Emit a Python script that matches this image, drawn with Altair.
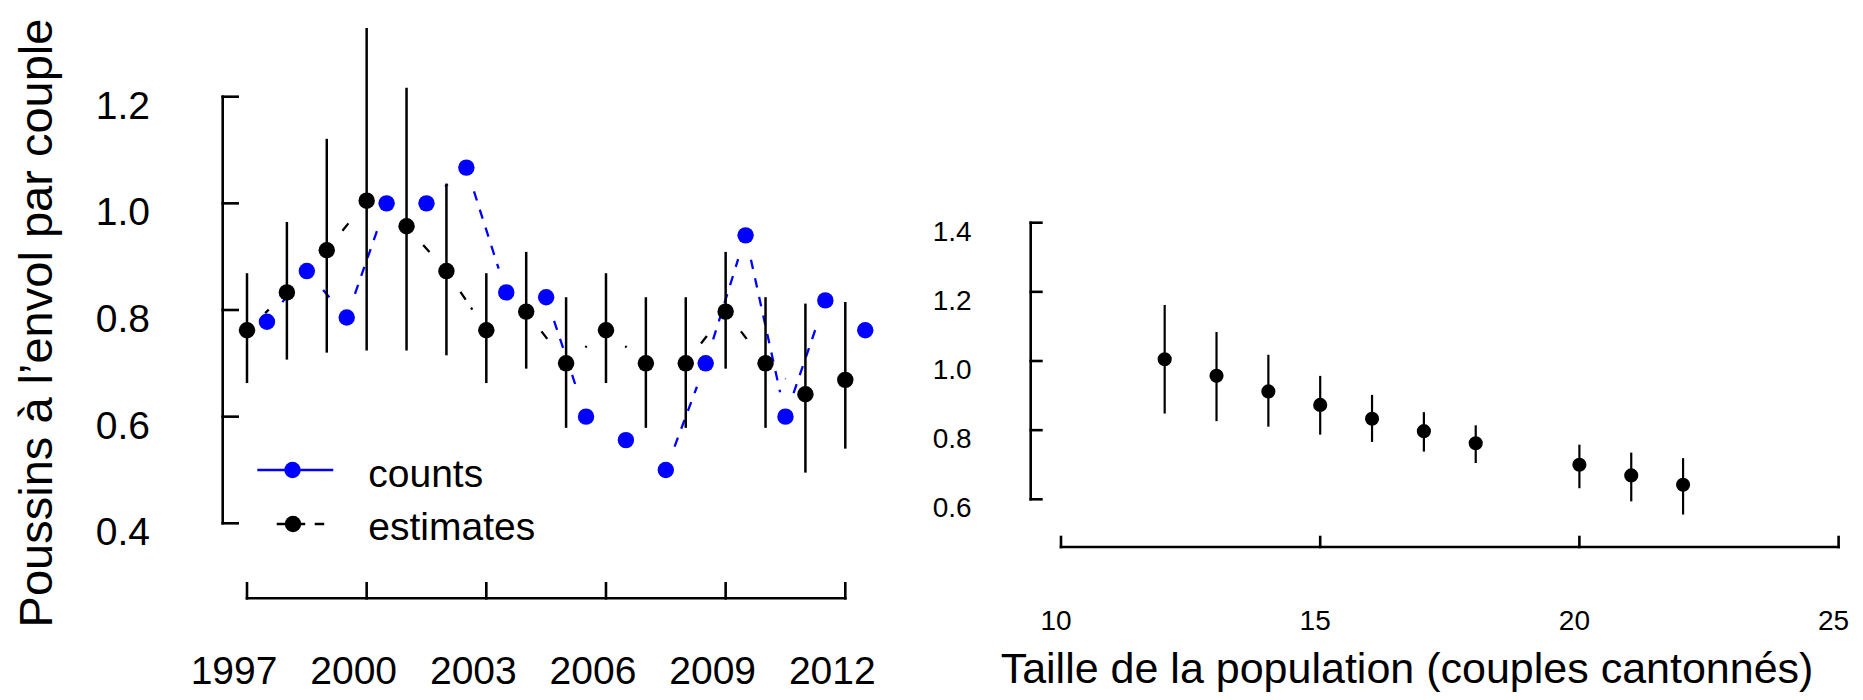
import altair as alt
import pandas as pd

# ---------------- data ----------------
years = list(range(1997, 2013))
estimates = [0.762, 0.833, 0.912, 1.005, 0.957, 0.873, 0.762, 0.797,
             0.700, 0.762, 0.700, 0.700, 0.797, 0.700, 0.642, 0.669]
est_low = [0.663, 0.707, 0.720, 0.724, 0.724, 0.715, 0.663, 0.690,
           0.579, 0.663, 0.579, 0.579, 0.690, 0.579, 0.495, 0.540]
est_high = [0.869, 0.965, 1.121, 1.329, 1.217, 1.037, 0.869, 0.909,
            0.824, 0.869, 0.824, 0.824, 0.909, 0.824, 0.812, 0.815]
counts = [0.778, 0.873, 0.786, 1.000, 1.000, 1.067, 0.833, 0.824,
          0.600, 0.556, 0.500, 0.700, 0.940, 0.600, 0.818, 0.762]

pop_size = [12, 13, 14, 15, 16, 17, 18, 20, 21, 22]
pop_est = [1.005, 0.957, 0.912, 0.873, 0.833, 0.797, 0.762, 0.700, 0.669, 0.642]
pop_low = [0.848, 0.826, 0.810, 0.787, 0.766, 0.738, 0.705, 0.632, 0.594, 0.556]
pop_high = [1.162, 1.084, 1.018, 0.957, 0.902, 0.852, 0.814, 0.758, 0.735, 0.719]

left_y_ticks = [0.4, 0.6, 0.8, 1.0, 1.2]
left_y_labels = ["0.4", "0.6", "0.8", "1.0", "1.2"]
left_x_ticks = [1997, 2000, 2003, 2006, 2009, 2012]
left_x_labels = ["1997", "2000", "2003", "2006", "2009", "2012"]
right_y_ticks = [0.6, 0.8, 1.0, 1.2, 1.4]
right_y_labels = ["0.6", "0.8", "1.0", "1.2", "1.4"]
right_x_ticks = [10, 15, 20, 25]
right_x_labels = ["10", "15", "20", "25"]
legend_labels = ["counts", "estimates"]
y_title = "Poussins à l’envol par couple"
x_title = "Taille de la population (couples cantonnés)"

# ---------------- layout / style ----------------
W, H = 1847, 684
FONT = "Liberation Sans"
BLUE = "#0000FF"
L_XR, L_YR = [239.0, 837.3], [515.3, 88.7]
R_XR, R_YR = [1053.0, 1830.6], [491.3, 214.7]
lx = alt.Scale(domain=[1997, 2012], range=L_XR, nice=False, zero=False)
ly = alt.Scale(domain=[0.4, 1.2], range=L_YR, nice=False, zero=False)
rx = alt.Scale(domain=[10, 25], range=R_XR, nice=False, zero=False)
ry = alt.Scale(domain=[0.6, 1.4], range=R_YR, nice=False, zero=False)
L_PXX = (L_XR[1] - L_XR[0]) / 15.0
L_PXY = (L_YR[0] - L_YR[1]) / 0.8
GAP = 25.0
AXW = 2.6
LPT = 270   # left point size (area)
RPT = 200   # right point size (area)


def gapped_line(df, xf, yf, color, calc=None):
    base = alt.Chart(df)
    if calc:
        base = base.transform_calculate(**calc)
    return (
        base.transform_window(xn=f"lead({xf})", yn=f"lead({yf})",
                              sort=[alt.SortField(xf, order="ascending")])
        .transform_filter("isValid(datum.xn)")
        .transform_calculate(dxp=f"(datum.xn - datum.{xf}) * {L_PXX}",
                             dyp=f"(datum.yn - datum.{yf}) * {L_PXY}")
        .transform_calculate(seglen="sqrt(datum.dxp*datum.dxp + datum.dyp*datum.dyp)")
        .transform_filter(f"datum.seglen > {2 * GAP}")
        .transform_calculate(t=f"{GAP} / datum.seglen")
        .transform_calculate(
            xs=f"datum.{xf} + (datum.xn - datum.{xf}) * datum.t",
            xe=f"datum.xn - (datum.xn - datum.{xf}) * datum.t",
            ys=f"datum.{yf} + (datum.yn - datum.{yf}) * datum.t",
            ye=f"datum.yn - (datum.yn - datum.{yf}) * datum.t",
        )
        .mark_rule(color=color, strokeWidth=2.3, strokeDash=[9.5, 9.5])
        .encode(x=alt.X("xs:Q", scale=lx, axis=None), x2="xe:Q",
                y=alt.Y("ys:Q", scale=ly, axis=None), y2="ye:Q")
    )


def y_axis(ticks, labels, scale, xpos, tlen, lab_x, fsize):
    tdf = pd.DataFrame({"v": ticks, "lab": labels})
    ddf = pd.DataFrame({"lo": [min(ticks)], "hi": [max(ticks)]})
    dom = alt.Chart(ddf).mark_rule(color="black", strokeWidth=AXW, strokeCap="square").encode(
        y=alt.Y("lo:Q", scale=scale, axis=None), y2="hi:Q", x=alt.value(xpos))
    tk = alt.Chart(tdf).mark_rule(color="black", strokeWidth=AXW, strokeCap="square").encode(
        y=alt.Y("v:Q", scale=scale, axis=None), x=alt.value(xpos), x2=alt.value(xpos + tlen))
    lab = alt.Chart(tdf).mark_text(align="right", baseline="middle", dy=10, fontSize=fsize,
                                   font=FONT, color="black").encode(
        y=alt.Y("v:Q", scale=scale, axis=None), x=alt.value(lab_x), text="lab:N")
    return [dom, tk, lab]


def x_axis(ticks, labels, scale, ypos, tlen, lab_y, fsize, dx):
    tdf = pd.DataFrame({"v": ticks, "lab": labels})
    ddf = pd.DataFrame({"lo": [min(ticks)], "hi": [max(ticks)]})
    dom = alt.Chart(ddf).mark_rule(color="black", strokeWidth=AXW, strokeCap="square").encode(
        x=alt.X("lo:Q", scale=scale, axis=None), x2="hi:Q", y=alt.value(ypos))
    tk = alt.Chart(tdf).mark_rule(color="black", strokeWidth=AXW, strokeCap="square").encode(
        x=alt.X("v:Q", scale=scale, axis=None), y=alt.value(ypos), y2=alt.value(ypos - tlen))
    lab = alt.Chart(tdf).mark_text(align="center", baseline="alphabetic", dx=dx, fontSize=fsize,
                                   font=FONT, color="black").encode(
        x=alt.X("v:Q", scale=scale, axis=None), y=alt.value(lab_y), text="lab:N")
    return [dom, tk, lab]


# ---------------- left panel ----------------
est_df = pd.DataFrame({"year": years, "est": estimates, "lo": est_low, "hi": est_high})
cnt_df = pd.DataFrame({"year": years, "count": counts})

cnt_line = gapped_line(cnt_df, "xc", "count", BLUE, calc={"xc": "datum.year + 0.5"})
est_line = gapped_line(est_df, "year", "est", "black")

est_bars = alt.Chart(est_df).mark_rule(color="black", strokeWidth=2.5).encode(
    x=alt.X("year:Q", scale=lx, axis=None),
    y=alt.Y("lo:Q", scale=ly, axis=None), y2="hi:Q")
cnt_pts = alt.Chart(cnt_df).transform_calculate(xc="datum.year + 0.5").mark_point(
    filled=True, shape="circle", size=LPT, color=BLUE, opacity=1).encode(
    x=alt.X("xc:Q", scale=lx, axis=None), y=alt.Y("count:Q", scale=ly, axis=None))
est_pts = alt.Chart(est_df).mark_point(
    filled=True, shape="circle", size=LPT, color="black", opacity=1).encode(
    x=alt.X("year:Q", scale=lx, axis=None), y=alt.Y("est:Q", scale=ly, axis=None))

one = pd.DataFrame({"k": [0]})
leg_cnt_line = alt.Chart(one).mark_rule(color=BLUE, strokeWidth=2.5).encode(
    x=alt.value(249.3), x2=alt.value(325.3), y=alt.value(462))
leg_cnt_pt = alt.Chart(one).mark_point(filled=True, shape="circle", size=LPT, color=BLUE,
                                       opacity=1).encode(x=alt.value(284.5), y=alt.value(462))
leg_est_line = alt.Chart(one).mark_rule(color="black", strokeWidth=2.3,
                                        strokeDash=[9.5, 9.5]).encode(
    x=alt.value(268.7), x2=alt.value(318.5), y=alt.value(516))
leg_est_pt = alt.Chart(one).mark_point(filled=True, shape="circle", size=LPT, color="black",
                                       opacity=1).encode(x=alt.value(285.0), y=alt.value(516))
leg_txt1 = alt.Chart(pd.DataFrame({"label": [legend_labels[0]]})).mark_text(
    align="left", baseline="alphabetic", fontSize=39, font=FONT, color="black").encode(
    text="label:N", x=alt.value(360.3), y=alt.value(478.7))
leg_txt2 = alt.Chart(pd.DataFrame({"label": [legend_labels[1]]})).mark_text(
    align="left", baseline="alphabetic", fontSize=39, font=FONT, color="black").encode(
    text="label:N", x=alt.value(360.3), y=alt.value(532.0))

ytitle = alt.Chart(pd.DataFrame({"t": [y_title]})).mark_text(
    angle=270, align="center", baseline="alphabetic", fontSize=47, font=FONT,
    color="black").encode(text="t:N", x=alt.value(43.7), y=alt.value(315))

left = alt.layer(
    cnt_line, est_line, est_bars, cnt_pts, est_pts,
    *y_axis(left_y_ticks, left_y_labels, ly, 214.7, 15, 142, 39),
    *x_axis(left_x_ticks, left_x_labels, lx, 590.3, 15, 675.5, 39, -13),
    leg_cnt_line, leg_est_line, leg_cnt_pt, leg_est_pt, leg_txt1, leg_txt2, ytitle,
)

# ---------------- right panel ----------------
pop_df = pd.DataFrame({"pop": pop_size, "est": pop_est, "lo": pop_low, "hi": pop_high})
pop_bars = alt.Chart(pop_df).mark_rule(color="black", strokeWidth=2.2).encode(
    x=alt.X("pop:Q", scale=rx, axis=None),
    y=alt.Y("lo:Q", scale=ry, axis=None), y2="hi:Q")
pop_pts = alt.Chart(pop_df).mark_point(
    filled=True, shape="circle", size=RPT, color="black", opacity=1).encode(
    x=alt.X("pop:Q", scale=rx, axis=None), y=alt.Y("est:Q", scale=ry, axis=None))
xtitle = alt.Chart(pd.DataFrame({"t": [x_title]})).mark_text(
    align="center", baseline="alphabetic", fontSize=43, font=FONT, color="black").encode(
    text="t:N", x=alt.value(1399), y=alt.value(674.5))

right = alt.layer(
    pop_bars, pop_pts,
    *y_axis(right_y_ticks, right_y_labels, ry, 1022.7, 10.7, 963.7, 28),
    *x_axis(right_x_ticks, right_x_labels, rx, 539.0, 10, 622, 28, -5),
    xtitle,
)

chart = (
    alt.layer(left, right)
    .resolve_scale(x="independent", y="independent")
    .properties(width=W, height=H, autosize=alt.AutoSizeParams(type="none"),
                padding={"left": 0, "top": 0, "right": 0, "bottom": 0})
    .configure_view(stroke=None)
)

chart.save("out.html", embed_options={"renderer": "svg", "actions": False})
